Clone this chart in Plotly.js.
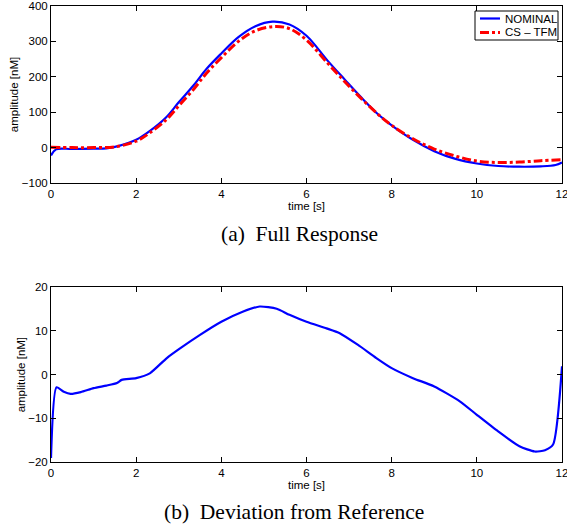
<!DOCTYPE html>
<html><head><meta charset="utf-8">
<script src="https://cdn.plot.ly/plotly-3.0.1.min.js"></script>
<style>html,body{margin:0;padding:0;background:#fff}#chart{width:567px;height:529px}</style>
</head><body><div id="chart"></div>
<script>
// Full response (a)
const timeNominal = [0, 0.12, 0.5, 1.0, 1.3, 1.6, 2.0, 2.3, 2.7, 3.0, 3.35, 3.65, 4.0, 4.4, 4.8, 5.2, 5.6, 6.0, 6.5, 6.9, 7.3, 7.7, 8.0, 8.5, 9.0, 9.5, 10.0, 10.5, 11.0, 11.5, 11.85, 12];
const nominal =     [-22, -5, -4, -3, -2, 5, 22, 45, 85, 128, 176, 222, 266, 312, 343, 356, 348, 316, 245, 192, 140, 92, 63, 22, -10, -32, -45, -52, -54, -53, -49, -42];
const timeCS = [0, 0.5, 1.0, 1.5, 2.0, 2.3, 2.7, 3.0, 3.35, 3.65, 4.0, 4.4, 4.8, 5.25, 5.6, 6.0, 6.5, 6.9, 7.3, 7.7, 8.0, 8.5, 9.0, 9.5, 10.0, 10.5, 11.0, 11.5, 12];
const csTfm =  [1, 0, 0, 2, 18, 40, 78, 118, 165, 210, 254, 300, 330, 342, 336, 304, 238, 186, 137, 92, 63, 25, -4, -24, -38, -42, -41, -37, -34];
// Deviation from reference (b)
const timeDev = [0, 0.13, 0.3, 0.46, 0.7, 1.0, 1.3, 1.55, 1.66, 2.0, 2.32, 2.72, 3.03, 3.5, 4.0, 4.5, 4.9, 5.3, 5.6, 6.0, 6.47, 6.78, 7.21, 7.64, 8.0, 8.5, 9.0, 9.6, 10.0, 10.5, 11.0, 11.36, 11.6, 11.79, 12];
const deviation = [-19.1, -2.9, -3.9, -4.4, -4.0, -3.1, -2.5, -1.9, -1.2, -0.8, 0.3, 3.8, 6.0, 9.1, 12.1, 14.4, 15.6, 15.1, 13.7, 12.1, 10.6, 9.5, 6.8, 3.8, 1.5, -0.8, -2.7, -6.1, -9.2, -13.0, -16.4, -17.6, -17.3, -16.0, 1.9];

const xTicks = [0, 2, 4, 6, 8, 10, 12];
const topYTicks = [-100, 0, 100, 200, 300, 400];
const botYTicks = [-20, -10, 0, 10, 20];
const legendNames = ['NOMINAL', 'CS \u2013 TFM'];
const seriesColors = ['#0000ff', '#ff0000'];

const sans = 'Liberation Sans, Arial, sans-serif';
const tickFont = {family: sans, size: 11.5, color: '#000'};
const serifFont = {family: 'Liberation Serif, Times New Roman, serif', size: 21.5, color: '#000'};
const axBase = {showline: true, linecolor: '#000', linewidth: 1, mirror: 'ticks', ticks: 'inside', ticklen: 5, tickcolor: '#000',
  showgrid: false, zeroline: false, tickfont: tickFont, ticklabeloverflow: 'allow'};

const traces = [
  {x: timeNominal, y: nominal, name: legendNames[0], mode: 'lines', line: {color: seriesColors[0], width: 2.2, shape: 'spline', smoothing: 1}, xaxis: 'x', yaxis: 'y'},
  {x: timeCS, y: csTfm, name: legendNames[1], mode: 'lines', line: {color: seriesColors[1], width: 3, dash: 'dashdot', shape: 'spline', smoothing: 1}, xaxis: 'x', yaxis: 'y'},
  {x: timeDev, y: deviation, name: 'deviation', mode: 'lines', line: {color: seriesColors[0], width: 2.2, shape: 'spline', smoothing: 0.6}, xaxis: 'x2', yaxis: 'y2'}
];

// paper-coordinate helpers (pixel -> paper)
const L = 51, W = 511, T = 6, H = 456;
const px = v => (v - L) / W;
const py = v => 1 - (v - T) / H;

const shapes = [
  {type: 'rect', xref: 'paper', yref: 'paper', x0: px(475), x1: px(558), y0: py(11), y1: py(40), line: {color: '#000', width: 1}, fillcolor: '#fff', layer: 'above'},
  {type: 'line', xref: 'paper', yref: 'paper', x0: px(480), x1: px(500), y0: py(18.5), y1: py(18.5), line: {color: seriesColors[0], width: 2.2}, layer: 'above'},
  {type: 'line', xref: 'paper', yref: 'paper', x0: px(480), x1: px(500), y0: py(32.5), y1: py(32.5), line: {color: seriesColors[1], width: 3, dash: 'dashdot'}, layer: 'above'}
];

const layout = {
  width: 567, height: 529,
  margin: {l: L, r: 567 - L - W, t: T, b: 529 - T - H},
  paper_bgcolor: '#fff', plot_bgcolor: '#fff',
  showlegend: false,
  xaxis: Object.assign({}, axBase, {domain: [0, 1], range: [0, 12], tickvals: xTicks, anchor: 'y',
     title: {text: 'time [s]', font: tickFont, standoff: 0}}),
  yaxis: Object.assign({}, axBase, {domain: [py(183), 1], range: [-100, 400], tickvals: topYTicks, anchor: 'x',
     title: {text: 'amplitude [nM]', font: tickFont, standoff: 0}}),
  xaxis2: Object.assign({}, axBase, {domain: [0, 1], range: [0, 12], tickvals: xTicks, anchor: 'y2',
     title: {text: 'time [s]', font: tickFont, standoff: 0}}),
  yaxis2: Object.assign({}, axBase, {domain: [0, py(287.3)], range: [-20, 20], tickvals: botYTicks, anchor: 'x2',
     title: {text: 'amplitude [nM]', font: tickFont, standoff: 0}}),
  shapes: shapes,
  annotations: [
    {text: legendNames[0], xref: 'paper', yref: 'paper', x: px(503), y: py(18.5), xanchor: 'left', yanchor: 'middle', showarrow: false, font: tickFont},
    {text: legendNames[1], xref: 'paper', yref: 'paper', x: px(503), y: py(32.5), xanchor: 'left', yanchor: 'middle', showarrow: false, font: tickFont},
    {text: '(a)  Full Response', xref: 'paper', yref: 'paper', x: px(299), y: py(234), xanchor: 'center', yanchor: 'middle', showarrow: false, font: serifFont},
    {text: '(b)  Deviation from Reference', xref: 'paper', yref: 'paper', x: px(294), y: py(512), xanchor: 'center', yanchor: 'middle', showarrow: false, font: serifFont}
  ]
};

Plotly.newPlot('chart', traces, layout, {staticPlot: true, displayModeBar: false});
</script>
</body></html>
